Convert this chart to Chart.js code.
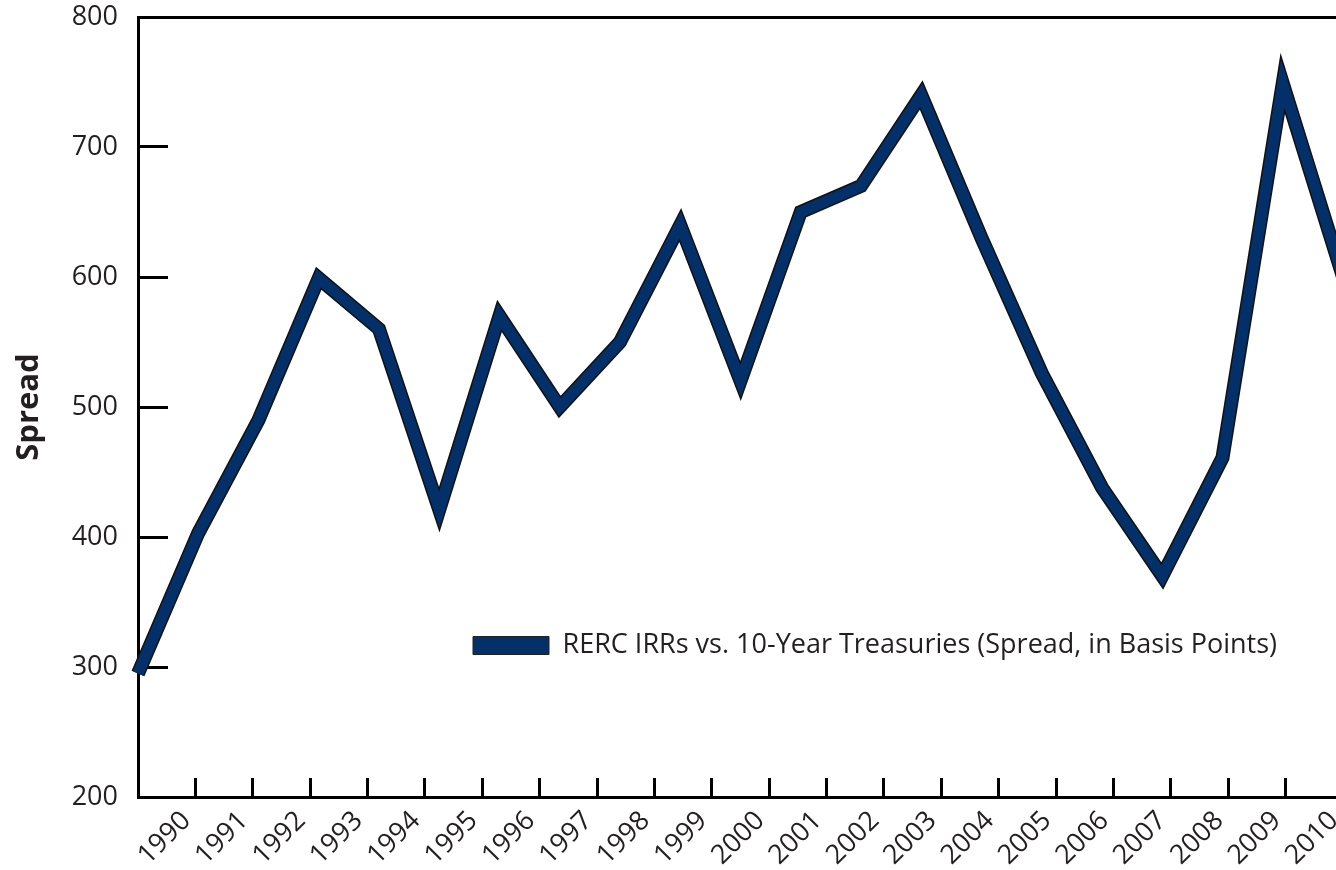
<!DOCTYPE html>
<html>
<head>
<meta charset="utf-8">
<title>RERC IRRs vs. 10-Year Treasuries</title>
<script src="https://cdn.jsdelivr.net/npm/chart.js@4"></script>
<style>
  html, body { margin: 0; padding: 0; background: #fff; overflow: hidden; }
  /* wider than the window on purpose: the right edge of the plot is cut off */
  #wrap { width: 1403px; height: 870px; }
</style>
</head>
<body>
<div id="wrap"><canvas id="spreadChart"></canvas></div>
<script>
const years = ['1990', '1991', '1992', '1993', '1994', '1995', '1996', '1997', '1998', '1999', '2000',
  '2001', '2002', '2003', '2004', '2005', '2006', '2007', '2008', '2009', '2010'];
const tickLabels = ['', '1990', '1991', '1992', '1993', '1994', '1995', '1996', '1997', '1998', '1999',
  '2000', '2001', '2002', '2003', '2004', '2005', '2006', '2007', '2008', '2009', '2010'];
const spread = [295, 403, 490, 599, 560, 421, 570, 500, 550, 640, 520,
  650, 670, 740, 630, 526, 438, 370, 461, 749, 600];
const yTicks = [200, 300, 400, 500, 600, 700, 800];
const seriesName = 'RERC IRRs vs. 10-Year Treasuries (Spread, in Basis Points)';

const NAVY = '#033069';
const INK = '#231f20';
const FONT = "'Open Sans', 'Noto Sans', sans-serif";

// legend sits inside the plot, so move it after layout
const legendSpot = {
  id: 'legendSpot',
  afterLayout(chart) {
    const lg = chart.legend;
    const w = lg.width, h = lg.height;
    lg.left = 463;
    lg.top = 622;
    lg.right = lg.left + w;
    lg.bottom = lg.top + h;
  }
};

const ctx = document.getElementById('spreadChart').getContext('2d');

new Chart(ctx, {
  type: 'line',
  data: {
    labels: years,
    datasets: [
      {
        label: seriesName,
        data: spread,
        borderColor: NAVY,
        backgroundColor: NAVY,
        borderWidth: 11,
        borderJoinStyle: 'miter',
        borderCapStyle: 'butt',
        pointRadius: 0,
        tension: 0,
        clip: false
      },
      {
        label: 'outline',
        data: spread,
        borderColor: '#111',
        borderWidth: 14,
        borderJoinStyle: 'miter',
        borderCapStyle: 'butt',
        pointRadius: 0,
        tension: 0,
        clip: false
      }
    ]
  },
  options: {
    responsive: true,
    maintainAspectRatio: false,
    animation: false,
    layout: { padding: { left: 0, right: 60, top: 0, bottom: 0 } },
    scales: {
      x: {
        type: 'category',
        position: 'top',
        offset: false,
        grid: { display: false },
        ticks: { display: false },
        border: { display: true, color: '#000', width: 3 },
        afterFit: s => { s.height = 17; }
      },
      xt: {
        type: 'category',
        position: 'bottom',
        labels: tickLabels,
        offset: false,
        grid: { drawOnChartArea: false, color: '#000', lineWidth: 3, tickLength: -19 },
        border: { display: true, color: '#000', width: 3 },
        ticks: {
          autoSkip: false,
          minRotation: 45,
          maxRotation: 45,
          padding: 27,
          labelOffset: -9,
          color: INK,
          font: { family: FONT, size: 27 }
        },
        afterFit: s => { s.height = 73; }
      },
      y: {
        position: 'left',
        min: 200,
        max: 800,
        afterBuildTicks: s => { s.ticks = yTicks.map(v => ({ value: v })); },
        grid: { drawOnChartArea: false, color: '#000', lineWidth: 3, tickLength: -30 },
        border: { display: true, color: '#000', width: 3 },
        ticks: {
          padding: 50,
          color: INK,
          font: { family: FONT, size: 27 }
        },
        title: {
          display: true,
          text: 'Spread',
          color: INK,
          padding: { top: 11, bottom: 0 },
          font: { family: FONT, size: 31, weight: 'bold' }
        },
        afterFit: s => {
          s.width = 138;
          // the big label padding must not push the plot down
          s.paddingTop = 0;
          s.paddingBottom = 0;
        }
      }
    },
    plugins: {
      legend: {
        position: 'chartArea',
        fullSize: false,
        align: 'start',
        labels: {
          boxWidth: 76,
          boxHeight: 18,
          color: INK,
          font: { family: FONT, size: 27 },
          filter: item => item.datasetIndex === 0,
          generateLabels: chart => {
            const items = Chart.defaults.plugins.legend.labels.generateLabels(chart);
            items.forEach(it => {
              it.fillStyle = NAVY;
              it.strokeStyle = '#222';
              it.lineWidth = 1;
            });
            return items;
          }
        }
      },
      tooltip: { enabled: false }
    }
  },
  plugins: [legendSpot]
});
</script>
</body>
</html>
